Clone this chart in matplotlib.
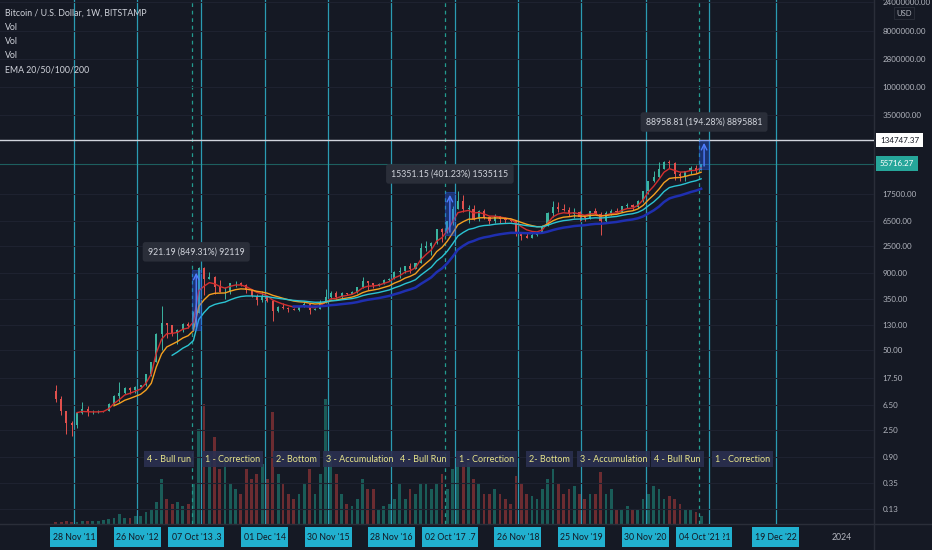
import matplotlib
matplotlib.use('Agg')
import matplotlib.pyplot as plt
import matplotlib.dates as mdates
from matplotlib.patches import Rectangle
from matplotlib.transforms import blended_transform_factory
from matplotlib.ticker import FuncFormatter, NullLocator
import pandas as pd

# --- datos mensuales BTC/USD (Bitstamp), Aug 2011 - Oct 2021 ---
first_open = 10.9
closes = [8.2, 5.1, 3.3, 3.0, 4.7,
          5.5, 4.9, 4.9, 5.0, 5.2, 6.7, 9.2, 10.1, 12.4, 11.2, 12.6, 13.5,
          20.4, 33.0, 93.0, 139, 129, 97, 106, 135, 127, 204, 1120, 730,
          803, 550, 445, 447, 628, 640, 585, 478, 386, 338, 378, 320,
          217, 254, 244, 236, 230, 263, 284, 230, 236, 314, 378, 430,
          368, 437, 416, 448, 532, 673, 624, 575, 609, 700, 745, 964,
          970, 1190, 1080, 1350, 2300, 2500, 2850, 4730, 4340, 6450, 10000, 13800,
          10200, 10300, 6930, 9240, 7490, 6390, 7730, 7010, 6630, 6370, 4040, 3740,
          3450, 3820, 4100, 5330, 8560, 10750, 10080, 9600, 8300, 9150, 7550, 7200,
          9350, 8550, 6420, 8630, 9450, 9140, 11340, 11650, 10780, 13800, 19700, 28990,
          33100, 45200, 58800, 57700, 37300, 35040, 41500, 47100, 43800, 55716.27]
highs = [13.5, 8.9, 5.2, 3.5, 4.8,
         7.2, 6.3, 5.4, 5.3, 5.2, 7.0, 9.3, 15.4, 12.8, 12.9, 13.0, 13.9,
         21, 33, 95, 266, 140, 130, 111, 140, 146, 220, 1163, 1150,
         950, 810, 710, 550, 630, 680, 650, 600, 505, 420, 460, 390,
         320, 265, 300, 260, 250, 265, 315, 285, 245, 330, 500, 465,
         460, 445, 440, 465, 550, 780, 680, 625, 630, 720, 760, 980,
         1150, 1200, 1350, 1350, 2800, 3000, 2950, 4750, 4980, 6470, 11400, 19600,
         17200, 11800, 11700, 9750, 9990, 7760, 8500, 7760, 7400, 7000, 6550, 4260,
         4110, 4200, 4110, 5600, 9000, 13900, 13200, 12330, 10900, 10350, 9510, 7750,
         9550, 10500, 9190, 9460, 10080, 10380, 11450, 12480, 12060, 14100, 19850, 29300,
         41950, 58350, 61800, 64900, 59600, 41300, 42300, 50500, 52900, 55750]
lows = [7.1, 4.5, 2.2, 2.0, 2.7,
        4.6, 4.2, 4.6, 4.8, 4.9, 5.1, 6.4, 7.1, 9.9, 9.9, 10.3, 12.4,
        13.2, 19.5, 33, 50, 79, 87, 64, 100, 115, 105, 203, 400,
        730, 420, 450, 340, 420, 550, 565, 440, 375, 275, 312, 310,
        152, 210, 235, 215, 225, 220, 255, 198, 225, 235, 300, 350,
        350, 365, 395, 410, 440, 520, 490, 520, 570, 605, 690, 735,
        750, 930, 900, 1070, 1350, 2100, 1830, 2700, 2970, 4110, 5500, 10000,
        9000, 6000, 6600, 6430, 7040, 5750, 6070, 5880, 6100, 6200, 3650, 3150,
        3350, 3380, 3700, 4080, 5320, 7500, 9100, 9400, 7730, 7300, 6520, 6430,
        6850, 8450, 3850, 6150, 8110, 8900, 8980, 10520, 9880, 10400, 13200, 17600,
        28200, 32300, 45000, 47000, 30000, 28800, 29300, 37300, 39600, 43300]
volumes = [2, 2, 3, 2, 2,
           3, 3, 3, 3, 4, 5, 6, 10, 6, 6, 8, 8,
           12, 14, 22, 45, 25, 20, 22, 18, 20, 40, 95, 120,
           65, 87, 55, 65, 40, 35, 30, 55, 45, 50, 60, 45,
           112, 50, 40, 30, 25, 30, 40, 55, 30, 50, 125, 70,
           50, 30, 20, 18, 25, 45, 35, 35, 15, 18, 20, 25,
           40, 25, 35, 30, 40, 40, 35, 40, 50, 35, 55, 65,
           60, 62, 45, 40, 30, 30, 35, 30, 25, 20, 48, 40,
           30, 28, 25, 35, 45, 55, 40, 30, 35, 38, 30, 25,
           30, 30, 52, 30, 35, 15, 15, 18, 14, 15, 25, 30,
           38, 35, 25, 28, 25, 20, 15, 15, 12, 8]
months = pd.date_range('2011-08-01', periods=len(closes), freq='MS') + pd.Timedelta(days=14)

ema_spans = [5, 12, 23, 46]          # ~20/50/100/200 semanas en meses
ema_colors = ['#d32f2f', '#f5a020', '#2bc4d3', '#1f2fb0']

cycle_dates = ['2011-11-28', '2012-11-26', '2013-11-25', '2014-12-01', '2015-11-30',
               '2016-11-28', '2017-11-27', '2018-11-26', '2019-11-25', '2020-11-30',
               '2021-11-29', '2022-12-19']
top_dates = ['2013-10-07', '2017-10-02', '2021-10-04']
phases = ['4 - Bull run', '1 - Correction', '2- Bottom', '3 - Accumulation', '4 - Bull Run',
          '1 - Correction', '2- Bottom', '3 - Accumulation', '4 - Bull Run', '1 - Correction']

measure_start = ['2013-10-07', '2017-10-02', '2021-10-04']
measure_end = ['2013-11-25', '2017-11-27', '2021-11-29']
measure_low = [108.46, 3826.0, 45789.0]
measure_high = [1029.65, 19177.15, 134747.81]
measure_text = ['921.19 (849.31%) 92119', '15351.15 (401.23%) 1535115', '88958.81 (194.28%) 8895881']

price_ticks = [0.13, 0.35, 0.90, 2.50, 6.50, 17.50, 50, 130, 350, 900, 2500, 6500, 17500,
               350000, 1000000, 2800000, 8000000, 24000000]
target_price = 134747.37
last_price = 55716.27

# --- estilo ---
BG = '#151924'
TXT = '#d1d4dc'
AXTXT = '#b2b5be'
plt.rcParams['font.family'] = ['Lato', 'DejaVu Sans']

W, H = 932, 550
PLOT_W, PLOT_H = 874, 524
fig = plt.figure(figsize=(W / 100, H / 100), dpi=100, facecolor=BG)

# escala de tiempo: 63.47 px por año, 28 Nov '11 en x=74
ppd = 63.47 / 365.25
ref = mdates.date2num(pd.Timestamp('2011-11-28'))
xlim = (ref - 74 / ppd, ref + (PLOT_W - 74) / ppd)

rect = [0, (H - PLOT_H) / H, PLOT_W / W, PLOT_H / H]
vax = fig.add_axes(rect, zorder=1)
ax = fig.add_axes(rect, zorder=2)
for a in (vax, ax):
    a.set_xlim(xlim)
    a.patch.set_alpha(0)
    for s in a.spines.values():
        s.set_visible(False)
    a.set_xticks([])
vax.patch.set_facecolor(BG)
vax.patch.set_alpha(1)
vax.set_yticks([])

x = mdates.date2num(months)
opens = [first_open] + closes[:-1]
up = [c >= o for o, c in zip(opens, closes)]

# volumen
vcol = ['#1f8a7c' if u else '#a83a3a' for u in up]
vax.bar(x, volumes, width=16, color=vcol, alpha=0.6, linewidth=0)
vax.set_ylim(0, max(volumes) * 4.2)

# precio (log)
ax.set_yscale('log')
ax.set_ylim(0.074, 2.59e7)
ax.set_yticks(price_ticks)
ax.yaxis.set_minor_locator(NullLocator())
ax.yaxis.set_major_formatter(FuncFormatter(lambda v, p: f'{v:.2f}'))
ax.yaxis.tick_right()
ax.tick_params(axis='y', length=0, pad=6, labelcolor=AXTXT, labelsize=5.8)
ax.grid(axis='y', color='#1e2230', lw=0.8, zorder=0)

for d in cycle_dates:
    ax.axvline(mdates.date2num(pd.Timestamp(d)), color='#2a9bb3', lw=0.9, zorder=1)
for d in top_dates:
    ax.axvline(mdates.date2num(pd.Timestamp(d)), color='#239b8f', lw=0.9, ls=(0, (3, 3)), zorder=1)

ax.axhline(target_price, color=TXT, lw=1.0, zorder=3)
ax.axhline(last_price, color='#26a69a', lw=0.8, alpha=0.5, zorder=3)

ccol = ['#3bb39f' if u else '#e0504d' for u in up]
ax.vlines(x, lows, highs, colors=ccol, lw=0.7, zorder=4)
body_lo = [min(o, c) for o, c in zip(opens, closes)]
body_h = [max(abs(c - o), min(o, c) * 0.02) for o, c in zip(opens, closes)]
ax.bar(x, body_h, bottom=body_lo, width=12, color=ccol, linewidth=0, zorder=4)

close_s = pd.Series(closes, index=x)
for span, col in zip(ema_spans, ema_colors):
    ema = close_s.ewm(span=span, adjust=False, min_periods=span).mean()
    ax.plot(ema.index, ema.values, color=col, lw=1.8 if span == 46 else 1.0, zorder=5)

# mediciones
for s, e, lo, hi, t in zip(measure_start, measure_end, measure_low, measure_high, measure_text):
    s0 = mdates.date2num(pd.Timestamp(s))
    e0 = mdates.date2num(pd.Timestamp(e))
    ax.add_patch(Rectangle((s0, lo), e0 - s0, hi - lo, facecolor='#2962ff', alpha=0.35,
                           edgecolor='#2962ff', lw=0.8, zorder=6))
    mid = (s0 + e0) / 2
    ax.annotate('', xy=(mid, hi), xytext=(mid, lo),
                arrowprops=dict(arrowstyle='->', color='#4f7dff', lw=1.0), zorder=7)
    ax.annotate(t, xy=(mid, hi), xytext=(0, 13), textcoords='offset points',
                ha='center', va='center', fontsize=6.3, color=TXT, zorder=8,
                bbox=dict(boxstyle='round,pad=0.6,rounding_size=0.3', fc='#2a2e39', ec='none'))

# fases del ciclo
blend = blended_transform_factory(ax.transData, ax.transAxes)
cyc = [mdates.date2num(pd.Timestamp(d)) for d in cycle_dates]
for i, label in enumerate(phases):
    cx = (cyc[i + 1] + cyc[i + 2]) / 2
    ax.text(cx, 1 - 459 / PLOT_H, label, transform=blend, ha='center', va='center',
            fontsize=6.5, color='#e6e38a', zorder=9,
            bbox=dict(boxstyle='square,pad=0.35', fc='#2b3050', ec='none', alpha=0.9))

# etiquetas de precio a la derecha
yblend = blended_transform_factory(ax.transAxes, ax.transData)
ax.text(1 + 6 / PLOT_W, target_price, f'{target_price:.2f}', transform=yblend, ha='left',
        va='center', fontsize=5.8, color='#131722', clip_on=False, zorder=10,
        bbox=dict(boxstyle='square,pad=0.45', fc='#ffffff', ec='none'))
ax.text(1 + 6 / PLOT_W, last_price, f'{last_price:.2f}', transform=yblend, ha='left',
        va='center', fontsize=5.8, color='#ffffff', clip_on=False, zorder=10,
        bbox=dict(boxstyle='square,pad=0.45', fc='#26a69a', ec='none'))
fig.text(904 / W, 1 - 13 / H, 'USD', ha='center', va='center', fontsize=5.5, color=AXTXT,
         bbox=dict(boxstyle='square,pad=0.3', fc=BG, ec='#2a2e39', lw=0.6))

# leyenda superior izquierda
legend_lines = [('Bitcoin / U.S. Dollar, 1W, BITSTAMP', 13), ('Vol', 28), ('Vol', 42),
                ('Vol', 55), ('EMA 20/50/100/200', 70)]
for t, yp in legend_lines:
    fig.text(5 / W, 1 - yp / H, t, ha='left', va='center', fontsize=6.3, color=TXT)

# eje de tiempo
tax = fig.add_axes([0, 0, PLOT_W / W, (H - PLOT_H) / H])
tax.set_xlim(xlim)
tax.set_ylim(0, 1)
tax.axis('off')
box_w = 47 / ppd
for k, d in enumerate(cycle_dates + top_dates):
    xd = mdates.date2num(pd.Timestamp(d))
    tax.add_patch(Rectangle((xd - box_w / 2, 3 / 26), box_w, 20 / 26, fc='#21b0cf', ec='none',
                            zorder=2 * k + 2))
    tax.text(xd, 0.5, pd.Timestamp(d).strftime("%d %b '%y"), ha='center', va='center',
             fontsize=6.3, color='#131722', zorder=2 * k + 3)
tax.text(ref + (842 - 74) / ppd, 0.5, '2024', ha='center', va='center', fontsize=6.3, color=AXTXT)

# separadores
fig.add_artist(plt.Line2D([PLOT_W / W] * 2, [0, 1], color='#2a2e39', lw=1))
fig.add_artist(plt.Line2D([0, 1], [(H - PLOT_H) / H] * 2, color='#2a2e39', lw=1))

fig.savefig('out.png', dpi=100, facecolor=BG)
